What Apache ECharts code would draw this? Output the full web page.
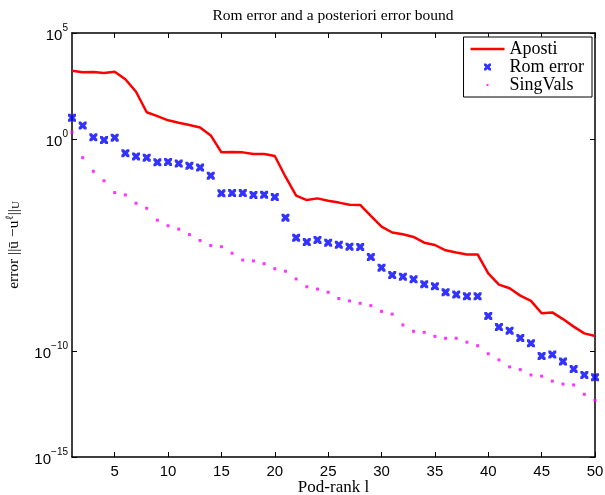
<!DOCTYPE html>
<html>
<head>
<meta charset="utf-8">
<script src="https://cdn.jsdelivr.net/npm/echarts@6/dist/echarts.min.js"></script>
<style>html,body{margin:0;padding:0;background:#fff}#c{width:605px;height:495px}</style>
</head>
<body>
<div id="c"></div>
<script>
var podRank = [1,2,3,4,5,6,7,8,9,10,11,12,13,14,15,16,17,18,19,20,21,22,23,24,25,26,27,28,29,30,31,32,33,34,35,36,37,38,39,40,41,42,43,44,45,46,47,48,49,50];
var aposti = [1.66e3,1.41e3,1.45e3,1.29e3,1.48e3,6.6e2,1.7e2,18.2,12.0,7.6,5.9,4.6,3.5,1.48,0.234,0.245,0.234,0.195,0.195,0.158,1.66e-2,2.14e-3,1.32e-3,1.58e-3,1.23e-3,1.0e-3,7.9e-4,7.8e-4,2.34e-4,7.4e-5,3.9e-5,3.2e-5,2.4e-5,1.29e-5,1.0e-5,5.6e-6,4.4e-6,3.6e-6,3.6e-6,4.6e-7,1.35e-7,9.1e-8,4.1e-8,2.3e-8,6.0e-9,6.6e-9,3.2e-9,1.41e-9,6.8e-10,5.1e-10];
var romError = [10,4.3,1.2,0.89,1.15,0.214,0.151,0.132,7.9e-2,8.3e-2,6.9e-2,5.4e-2,4.5e-2,1.86e-2,2.75e-3,2.8e-3,2.8e-3,2.3e-3,2.34e-3,1.82e-3,1.95e-4,2.2e-5,1.38e-5,1.74e-5,1.29e-5,1.02e-5,8.3e-6,8.1e-6,2.7e-6,8.5e-7,3.8e-7,3.2e-7,2.4e-7,1.41e-7,1.12e-7,5.9e-8,4.6e-8,3.8e-8,3.8e-8,4.5e-9,1.35e-9,9.1e-10,4.1e-10,2.3e-10,5.8e-11,6.8e-11,3.2e-11,1.41e-11,7.4e-12,5.8e-12];
var singVals = [2.1,0.132,3.0e-2,1.07e-2,2.95e-3,2.3e-3,9.3e-4,5.4e-4,1.48e-4,8.1e-5,5.6e-5,3.1e-5,1.62e-5,9.5e-6,8.3e-6,4.1e-6,1.95e-6,1.78e-6,1.32e-6,7.6e-7,5.8e-7,2.5e-7,1.07e-7,8.3e-8,5.9e-8,3.0e-8,2.3e-8,1.78e-8,1.38e-8,7.4e-9,5.5e-9,1.7e-9,8.5e-10,7.6e-10,4.9e-10,4.0e-10,4.0e-10,2.6e-10,1.78e-10,7.4e-11,3.8e-11,1.78e-11,1.32e-11,7.4e-12,6.5e-12,3.8e-12,2.75e-12,2.5e-12,9.1e-13,4.6e-13];
var xTicks = [5,10,15,20,25,30,35,40,45,50];
var seriesNames = ['Aposti','Rom error','SingVals'];
var titleText = 'Rom error and a posteriori error bound';
var xName = 'Pod-rank l';

function pairs(ys){ return podRank.map(function(x,i){ return [x, ys[i]]; }); }
var xPath = 'path://M0,0L3,0L5,2L7,0L10,0L10,3L8,5L10,7L10,10L7,10L5,8L3,10L0,10L0,7L2,5L0,3Z';
var dotLegend = 'path://M0,0L0.01,0M10,10L10.01,10M3.6,3.6L6.4,3.6L6.4,6.4L3.6,6.4Z';
var lineLegend = 'path://M0,0L34,0L34,2.5L0,2.5Z';
var serif = '"Liberation Serif", "DejaVu Serif", serif';
var sans = '"Liberation Sans", Arial, sans-serif';

var chart = echarts.init(document.getElementById('c'));
function logLabel(v){
  var e = Math.round(Math.log10(v));
  return '{b|10}{e|' + (e < 0 ? '\u2212' + (-e) : e) + '}';
}
var axisLineStyle = {color:'#000', width:1.5};
chart.setOption({
  animation:false,
  title:{text:titleText, left:328, top:3, textAlign:'center',
    textStyle:{fontFamily:serif, fontWeight:'normal', fontSize:15.5, color:'#000'}},
  grid:{left:72, right:10, top:33, bottom:38, outerBoundsMode:'none', containLabel:false},
  legend:{
    orient:'vertical', right:13, top:37,
    data:[{name:seriesNames[0], icon:lineLegend},{name:seriesNames[1], icon:xPath},{name:seriesNames[2], icon:dotLegend}],
    itemWidth:34, itemHeight:7, itemGap:0,
    padding:[3,8,3,7], borderColor:'#000', borderWidth:1, backgroundColor:'#fff',
    textStyle:{fontFamily:serif, fontSize:18, lineHeight:16, color:'#000'}
  },
  xAxis:[{
    type:'value', min:1, max:50, position:'bottom',
    name:xName, nameLocation:'middle', nameGap:22, nameMoveOverlap:false,
    nameTextStyle:{fontFamily:serif, fontSize:17, color:'#000', lineHeight:18},
    axisLine:{lineStyle:axisLineStyle},
    axisTick:{inside:true, length:5, customValues:xTicks, lineStyle:{color:'#000'}},
    axisLabel:{customValues:xTicks, fontFamily:sans, fontSize:15, color:'#000', margin:7},
    splitLine:{show:false}
  },{
    type:'value', min:1, max:50, position:'top',
    axisLine:{lineStyle:axisLineStyle},
    axisTick:{inside:true, length:5, customValues:xTicks, lineStyle:{color:'#000'}},
    axisLabel:{show:false}, splitLine:{show:false}
  }],
  yAxis:[{
    type:'log', logBase:10, min:1e-15, max:1e5, splitNumber:4,
    name:'error ||{bar|ū} \u2212u{sup|ℓ}||{sub|U}', nameLocation:'middle', nameGap:50, nameRotate:90,
    nameTextStyle:{fontFamily:serif, fontSize:15.5, color:'#000',
      rich:{bar:{fontFamily:serif, fontSize:15.5}, sup:{fontFamily:serif, fontSize:11, verticalAlign:'top', padding:[0,0,6,0]}, sub:{fontFamily:serif, fontSize:11, verticalAlign:'bottom', padding:[6,0,0,0]}}},
    axisLine:{lineStyle:axisLineStyle},
    axisTick:{inside:true, length:5, lineStyle:{color:'#000'}},
    axisLabel:{formatter:logLabel, margin:4,
      rich:{b:{fontFamily:sans, fontSize:15, color:'#000', verticalAlign:'bottom', lineHeight:20},
            e:{fontFamily:sans, fontSize:10, color:'#000', verticalAlign:'bottom', lineHeight:20, padding:[0,0,10,0]}}},
    splitLine:{show:false}
  },{
    type:'log', logBase:10, min:1e-15, max:1e5, splitNumber:4, position:'right',
    axisLine:{lineStyle:axisLineStyle},
    axisTick:{inside:true, length:5, lineStyle:{color:'#000'}},
    axisLabel:{show:false}, splitLine:{show:false}
  }],
  series:[{
    name:seriesNames[0], type:'line', data:pairs(aposti), symbol:'none',
    lineStyle:{color:'#ff0000', width:2.5}, itemStyle:{color:'#ff0000'}, z:3
  },{
    name:seriesNames[1], type:'scatter', data:pairs(romError), symbol:xPath, symbolSize:8,
    itemStyle:{color:'#0000ff'}, z:4
  },{
    name:seriesNames[2], type:'scatter', data:pairs(singVals), symbol:'rect', symbolSize:3,
    itemStyle:{color:'#ff00ff'}, z:4
  }]
});
</script>
</body>
</html>
